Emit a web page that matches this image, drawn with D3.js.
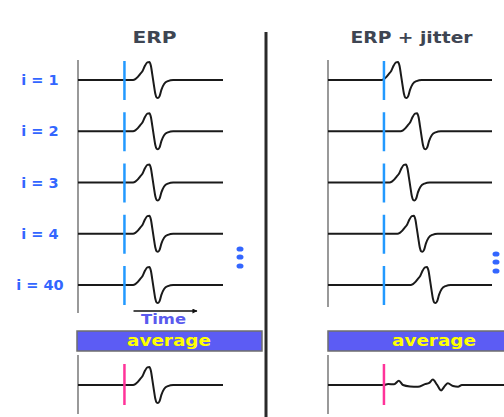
<!DOCTYPE html>
<html>
<head>
<meta charset="utf-8">
<script src="https://cdn.jsdelivr.net/npm/d3@7"></script>
<style>
html,body{margin:0;padding:0;background:#fff;}
svg{display:block;}
</style>
</head>
<body>
<svg id="chart" width="504" height="417"></svg>
<script>
// ---------- data ----------
const panelTitles = ["ERP", "ERP + jitter"];
const trialLabels = ["i = 1", "i = 2", "i = 3", "i = 4", "i = 40"];
// ERP template (time in ms after stimulus, normalised amplitude)
const erpTime = [0, 38, 48, 58, 69, 80, 91, 101, 110, 117, 123, 129, 136, 142, 148, 155, 163, 175, 192, 215];
const erpAmp  = [0, 0, 0.05, 0.16, 0.33, 0.5, 0.8, 0.98, 1.0, 0.78, 0.3, -0.2, -0.75, -0.97, -1.0, -0.9, -0.55, -0.22, -0.06, 0];
// latency shift of each trial (ms)
const jitterERP = [0, 0, 0, 0, 0];
const jitterJit = [-48, 36, -13, 22, 80];
// average of the jittered trials
const avgJitTime = [0, 18, 45, 66, 84, 115, 150, 181, 200, 216, 234, 252, 269, 282, 305, 327, 344];
const avgJitAmp  = [0, 0.05, 0.04, 0.24, 0, -0.08, -0.1, 0.05, 0.12, 0.3, 0.02, -0.3, -0.05, 0.1, -0.06, -0.1, 0];
const timeLabel = "Time";
const avgLabel = "average";

// ---------- drawing ----------
const svg = d3.select("#chart");
const font = "'DejaVu Sans', Verdana, sans-serif";
const blue = "#3366ff";

const panels = [
  {title: panelTitles[0], cx: 154.5, xr: [78, 223], dom: [-205, 435], jit: jitterERP,
   axisEnd: 313, bar: [77, 262], avgT: erpTime, avgA: erpAmp, avgEnd: 435, dots: 240},
  {title: panelTitles[1], cx: 411.5, xr: [328, 492], dom: [-247, 477], jit: jitterJit,
   axisEnd: 307, bar: [328, 540], avgT: avgJitTime, avgA: avgJitAmp, avgEnd: 530, dots: 496}
];

const rowY = d3.scalePoint().domain(trialLabels).range([80, 285]);
const ampPx = 18;

// divider
svg.append("line").attr("x1", 266).attr("x2", 266).attr("y1", 32).attr("y2", 417)
  .attr("stroke", "#2a2a2a").attr("stroke-width", 3);

function trace(g, x, base, times, amps, shift, endT, dom0) {
  const y = d3.scaleLinear().domain([-1, 1]).range([base + ampPx, base - ampPx]);
  const pts = [[dom0, 0]].concat(times.map((t, i) => [t + shift, amps[i]])).concat([[endT, 0]]);
  const line = d3.line().x(d => x(d[0])).y(d => y(d[1])).curve(d3.curveMonotoneX);
  g.append("path").attr("d", line(pts)).attr("fill", "none")
    .attr("stroke", "#1a1a1a").attr("stroke-width", 2).attr("stroke-linejoin", "round");
}

panels.forEach((p, pi) => {
  const g = svg.append("g");
  const x = d3.scaleLinear().domain(p.dom).range(p.xr);

  g.append("text").attr("x", p.cx).attr("y", 43).attr("text-anchor", "middle")
    .attr("font-family", font).attr("font-weight", "bold").attr("font-size", 16)
    .attr("fill", "#3e4552")
    .attr("textLength", pi === 0 ? 44 : 122).attr("lengthAdjust", "spacingAndGlyphs")
    .text(p.title);

  // vertical axis
  g.append("line").attr("x1", p.xr[0]).attr("x2", p.xr[0]).attr("y1", 60).attr("y2", p.axisEnd)
    .attr("stroke", "#808080").attr("stroke-width", 1.6);

  trialLabels.forEach((lab, i) => {
    const b = rowY(lab);
    trace(g, x, b, erpTime, erpAmp, p.jit[i], p.dom[1], p.dom[0]);
    g.append("line").attr("x1", x(0)).attr("x2", x(0)).attr("y1", b - 19).attr("y2", b + 20)
      .attr("stroke", "#2299ff").attr("stroke-width", 2.5);
    if (pi === 0) {
      g.append("text").attr("x", 40).attr("y", b + 5).attr("text-anchor", "middle")
        .attr("font-family", font).attr("font-weight", "bold").attr("font-size", 14.5)
        .attr("fill", blue).text(lab);
    }
  });

  // ellipsis dots
  const dy = pi === 0 ? [249, 257, 266] : [254, 262, 271];
  dy.forEach(v => g.append("ellipse").attr("cx", p.dots).attr("cy", v).attr("rx", 3.5).attr("ry", 2.6).attr("fill", blue));

  // average bar
  g.append("rect").attr("x", p.bar[0]).attr("y", 331).attr("width", p.bar[1] - p.bar[0]).attr("height", 20)
    .attr("fill", "#5c5cf4").attr("stroke", "#6e6e6e").attr("stroke-width", 1.5);
  g.append("text").attr("x", pi === 0 ? 169 : 434).attr("y", 346).attr("text-anchor", "middle")
    .attr("font-family", font).attr("font-weight", "bold").attr("font-size", 16)
    .attr("fill", "#ffff00").attr("textLength", 84).attr("lengthAdjust", "spacingAndGlyphs")
    .text(avgLabel);

  // average trace
  g.append("line").attr("x1", p.xr[0]).attr("x2", p.xr[0]).attr("y1", 355).attr("y2", 414)
    .attr("stroke", "#808080").attr("stroke-width", 1.6);
  trace(g, x, 385, p.avgT, p.avgA, 0, p.avgEnd, p.dom[0]);
  g.append("line").attr("x1", x(0)).attr("x2", x(0)).attr("y1", 364).attr("y2", 405)
    .attr("stroke", "#ff3399").attr("stroke-width", 2.5);

  if (pi === 0) {
    // time arrow
    svg.append("defs").append("marker").attr("id", "arr").attr("viewBox", "0 0 10 10")
      .attr("refX", 9).attr("refY", 5).attr("markerWidth", 6).attr("markerHeight", 5)
      .attr("markerUnits", "userSpaceOnUse").attr("orient", "auto")
      .append("path").attr("d", "M0,0L10,5L0,10z").attr("fill", "#111");
    g.append("line").attr("x1", x(40)).attr("x2", x(320)).attr("y1", 311).attr("y2", 311)
      .attr("stroke", "#111").attr("stroke-width", 1.3).attr("marker-end", "url(#arr)");
    g.append("text").attr("x", 163.5).attr("y", 323.5).attr("text-anchor", "middle")
      .attr("font-family", font).attr("font-weight", "bold").attr("font-size", 14)
      .attr("fill", "#5a5aee").attr("textLength", 45).attr("lengthAdjust", "spacingAndGlyphs")
      .text(timeLabel);
  }
});
</script>
</body>
</html>
